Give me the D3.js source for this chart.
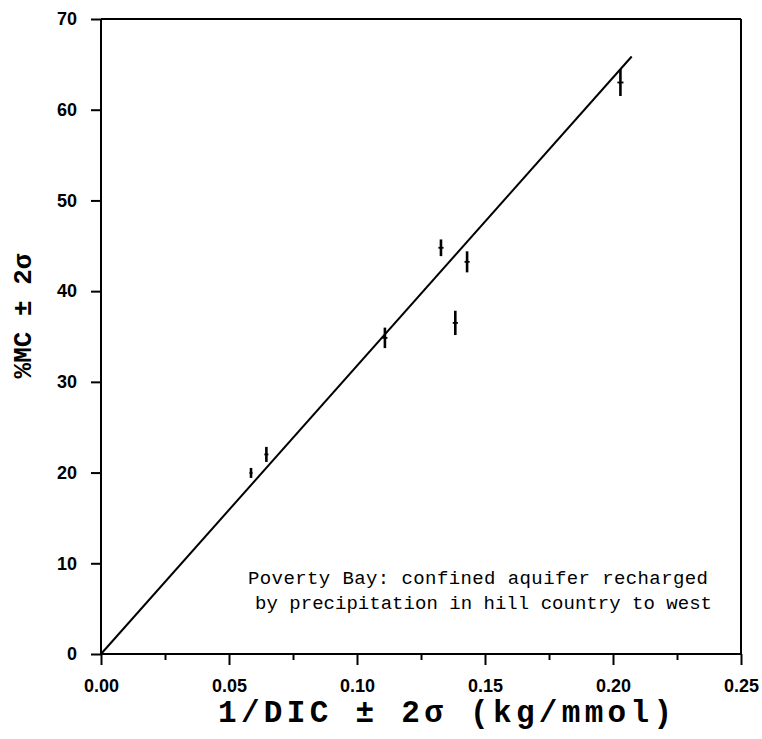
<!DOCTYPE html>
<html><head><meta charset="utf-8">
<script src="https://cdn.jsdelivr.net/npm/d3@7"></script>
<style>body{margin:0;background:#fff}svg{display:block}</style>
</head><body><svg id="c" width="762" height="739"></svg>
<script>
const xTickValues = [0, 0.05, 0.10, 0.15, 0.20, 0.25];
const xMinorValues = [0.025, 0.075, 0.125, 0.175, 0.225];
const yTickValues = [0, 10, 20, 30, 40, 50, 60, 70];
const pointX = [0.0586, 0.0646, 0.1109, 0.1328, 0.1384, 0.1430, 0.2029];
const pointY = [19.96, 22.0, 34.85, 44.78, 36.5, 43.23, 63.0];
const pointYErr = [0.55, 0.83, 1.13, 0.92, 1.34, 1.16, 1.49];
const pointXErr = [0.0006, 0.0008, 0.001, 0.001, 0.001, 0.001, 0.0012];
const fitX = [0, 0.2073];
const fitY = [0, 65.87];
const noteLines = ["Poverty Bay: confined aquifer recharged", "by precipitation in hill country to west"];
const xLabel = "1/DIC \u00B1 2\u03C3 (kg/mmol)";
const yLabel = "%MC \u00B1 2\u03C3";

const svg = d3.select("#c");
const x = d3.scaleLinear().domain([0, 0.25]).range([101, 741]);
const y = d3.scaleLinear().domain([0, 70]).range([654, 19]);
const sw = 2;
const mono = "'Liberation Mono', 'Courier New', monospace";

// frame top & right
svg.append("line").attr("x1", x(0)).attr("x2", x(0.25)).attr("y1", y(70)).attr("y2", y(70))
  .attr("stroke", "#000").attr("stroke-width", sw);
svg.append("line").attr("x1", x(0.25)).attr("x2", x(0.25)).attr("y1", y(70)).attr("y2", y(0))
  .attr("stroke", "#000").attr("stroke-width", sw);

// x axis
const gx = svg.append("g").attr("transform", `translate(0,${y(0)})`)
  .call(d3.axisBottom(x).tickValues(xTickValues).tickSize(11).tickPadding(14)
    .tickFormat(d3.format(".2f")));
const gxm = svg.append("g").attr("transform", `translate(0,${y(0)})`)
  .call(d3.axisBottom(x).tickValues(xMinorValues).tickSize(6).tickFormat(""));
gxm.select(".domain").remove();

// y axis
const gy = svg.append("g").attr("transform", `translate(${x(0)},0)`)
  .call(d3.axisLeft(y).tickValues(yTickValues).tickSize(10).tickPadding(14)
    .tickFormat(d3.format("d")));

[gx, gxm, gy].forEach(g => {
  g.selectAll(".domain").attr("stroke", "#000").attr("stroke-width", sw);
  g.selectAll(".tick line").attr("stroke", "#000").attr("stroke-width", sw);
  g.selectAll("text").attr("fill", "#000").style("font-family", "'Liberation Sans', Arial, sans-serif")
    .style("font-size", "18px").style("font-weight", "bold");
});
gx.select(".domain").attr("d", `M${x(0)},0H${x(0.25)}`);
gy.select(".domain").attr("d", `M0,${y(70)}V${y(0)}`);

// fit line
svg.append("line").attr("x1", x(fitX[0])).attr("y1", y(fitY[0]))
  .attr("x2", x(fitX[1])).attr("y2", y(fitY[1]))
  .attr("stroke", "#000").attr("stroke-width", 2);

// error bars
const pts = pointX.map((v, i) => ({x: v, y: pointY[i], ey: pointYErr[i], ex: pointXErr[i]}));
const gp = svg.append("g");
gp.selectAll("line.v").data(pts).join("line").attr("class", "v")
  .attr("x1", d => x(d.x)).attr("x2", d => x(d.x))
  .attr("y1", d => y(d.y - d.ey)).attr("y2", d => y(d.y + d.ey))
  .attr("stroke", "#000").attr("stroke-width", 2.6);
gp.selectAll("line.h").data(pts).join("line").attr("class", "h")
  .attr("x1", d => x(d.x - d.ex)).attr("x2", d => x(d.x + d.ex))
  .attr("y1", d => y(d.y)).attr("y2", d => y(d.y))
  .attr("stroke", "#000").attr("stroke-width", 1.8);

// annotation
svg.append("text").attr("x", 248).attr("y", 584).text(noteLines[0])
  .attr("textLength", 460).attr("lengthAdjust", "spacing")
  .style("font-family", mono).style("font-size", "19px").attr("fill", "#000");
svg.append("text").attr("x", 255).attr("y", 609).text(noteLines[1])
  .attr("textLength", 457).attr("lengthAdjust", "spacing")
  .style("font-family", mono).style("font-size", "19px").attr("fill", "#000");

// axis labels
svg.append("text").attr("x", 218).attr("y", 722).text(xLabel)
  .attr("textLength", 454).attr("lengthAdjust", "spacing")
  .style("font-family", mono).style("font-size", "31px")
  .style("font-weight", "bold").attr("fill", "#000");
svg.append("text").attr("transform", "translate(31,316) rotate(-90)").attr("text-anchor", "middle")
  .text(yLabel)
  .style("font-family", mono).style("font-size", "26px")
  .style("font-weight", "bold").attr("fill", "#000");
</script></body></html>
